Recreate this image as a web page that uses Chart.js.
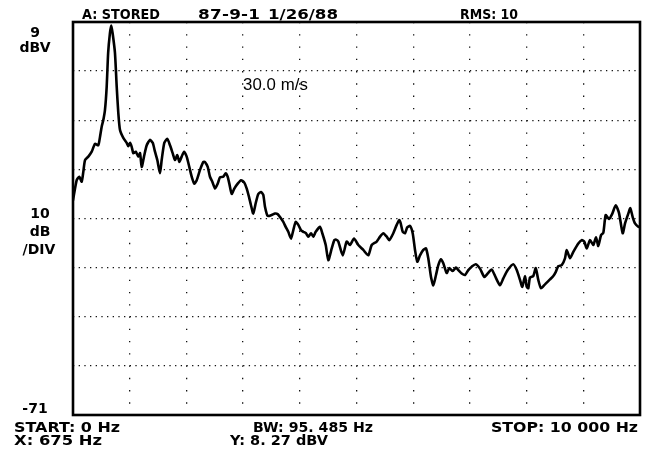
<!DOCTYPE html>
<html>
<head>
<meta charset="utf-8">
<script src="https://cdn.jsdelivr.net/npm/chart.js@4/dist/chart.umd.min.js"></script>
<style>
  html, body { margin: 0; padding: 0; background: #fff; }
  #wrap { width: 648px; height: 455px; }
</style>
</head>
<body>
<div id="wrap"><canvas id="spec" width="648" height="455"></canvas></div>
<script>
// Stored spectrum, 0 - 10 kHz, level in dBV
const freqHz = [
  0, 65, 111, 153, 182, 212, 270, 330, 388, 446, 476, 506, 534, 564, 594, 620, 650, 675, 700, 740,
  771, 799, 829, 887, 947, 975, 1005, 1035, 1064, 1106, 1152, 1182, 1212, 1252, 1300, 1358, 1406, 1446, 1487, 1534,
  1564, 1610, 1663, 1711, 1758, 1799, 1840, 1875, 1917, 1958, 2005, 2051, 2094, 2139, 2182, 2240, 2298, 2328, 2376, 2416,
  2457, 2504, 2552, 2593, 2651, 2693, 2728, 2757, 2799, 2845, 2905, 2963, 3021, 3064, 3104, 3139, 3180, 3222, 3268, 3316,
  3356, 3386, 3434, 3504, 3563, 3610, 3651, 3709, 3751, 3797, 3845, 3885, 3928, 3974, 4021, 4062, 4109, 4150, 4198, 4238,
  4281, 4356, 4397, 4457, 4503, 4563, 4609, 4639, 4679, 4757, 4827, 4885, 4956, 5032, 5120, 5208, 5268, 5356, 5415, 5473,
  5533, 5579, 5649, 5709, 5755, 5780, 5815, 5856, 5896, 5944, 5991, 6032, 6072, 6120, 6178, 6226, 6266, 6314, 6355, 6402,
  6443, 6490, 6531, 6591, 6637, 6697, 6755, 6796, 6855, 6914, 6972, 7032, 7102, 7178, 7254, 7314, 7385, 7455, 7531, 7589,
  7667, 7766, 7826, 7884, 7924, 7972, 8002, 8030, 8060, 8118, 8161, 8206, 8254, 8325, 8413, 8471, 8513, 8559, 8619, 8677,
  8707, 8766, 8824, 8912, 8972, 9018, 9060, 9118, 9177, 9224, 9265, 9312, 9353, 9395, 9453, 9512, 9572, 9630, 9695, 9736,
  9794, 9829, 9871, 9912, 9970, 10000
];
const levelDbv = [
  -27.3, -23.2, -22.5, -23.5, -21.5, -19.1, -18.4, -17.4, -15.8, -16.1, -14.4, -12.3, -11.0, -8.9, -4.2, 2.7, 6.6, 8.27, 6.6, 2.7,
  -4.2, -9.5, -13.0, -14.6, -15.6, -16.3, -15.6, -16.4, -17.7, -17.4, -18.4, -17.7, -20.5, -18.4, -16.1, -15.0, -15.6, -17.4, -19.1, -21.8,
  -19.1, -15.6, -14.8, -16.1, -17.7, -19.1, -18.1, -19.5, -18.4, -17.4, -18.4, -20.5, -22.5, -23.9, -23.2, -21.1, -19.5, -19.5, -20.5, -22.5,
  -23.5, -24.9, -23.9, -22.6, -22.5, -21.8, -22.5, -23.9, -26.0, -24.9, -23.9, -23.2, -23.7, -24.9, -26.6, -28.3, -30.0, -27.9, -26.0, -25.6,
  -26.2, -28.6, -30.5, -30.3, -30.0, -30.1, -30.7, -31.7, -32.7, -33.7, -35.1, -33.4, -31.7, -32.3, -33.4, -33.7, -34.0, -34.7, -34.0, -34.7,
  -33.7, -32.7, -34.0, -36.4, -39.5, -37.1, -35.4, -35.3, -35.7, -38.5, -35.7, -36.4, -35.1, -36.4, -37.4, -38.5, -36.4, -35.7, -34.7, -34.0,
  -34.7, -35.4, -34.0, -32.3, -31.3, -32.0, -33.7, -34.0, -32.8, -32.5, -34.0, -37.4, -39.8, -38.5, -37.4, -37.1, -39.1, -42.9, -44.6, -42.5,
  -40.5, -39.3, -40.1, -42.1, -41.1, -41.7, -41.0, -41.5, -42.2, -42.5, -41.5, -40.8, -40.3, -41.2, -42.9, -42.2, -41.4, -43.0, -44.6, -43.2,
  -41.5, -40.3, -41.5, -43.5, -44.9, -42.7, -44.9, -45.2, -43.0, -42.7, -41.1, -43.5, -45.2, -44.4, -43.4, -42.7, -41.9, -40.7, -40.5, -39.1,
  -37.4, -39.1, -37.8, -36.1, -35.4, -35.7, -37.1, -35.4, -36.4, -34.8, -36.6, -34.4, -33.9, -30.3, -31.1, -30.0, -28.3, -29.9, -34.0, -32.0,
  -30.0, -28.9, -30.7, -32.0, -32.7, -32.8
];

// Axis divisions: 10 dB/div vertically, 1 kHz/div horizontally
const xTicks = [0, 1000, 2000, 3000, 4000, 5000, 6000, 7000, 8000, 9000, 10000];
const yTicks = [9, -1, -11, -21, -31, -41, -51, -61, -71];

// Instrument readout values
const traceName = 'A: STORED';
const traceDate = ['87-9-1', '1/26/88'];
const rmsAverages = 10;
const bandwidthHz = 95.485;
const windSpeed = '30.0 m/s';

const points = freqHz.map((f, i) => ({ x: f, y: levelDbv[i] }));

// Marker sits on the spectral peak
let peakIdx = 0;
levelDbv.forEach((v, i) => { if (v > levelDbv[peakIdx]) peakIdx = i; });
const markerHz = freqHz[peakIdx];
const markerDbv = levelDbv[peakIdx];

// Analyzer-style number: "8.27" -> "8. 27", "10000" -> "10 000"
function analyzerNum(v, decimals) {
  const s = v.toFixed(decimals);
  const [ip, fp] = s.split('.');
  const grouped = ip.replace(/\B(?=(\d{3})+(?!\d))/g, ' ');
  return fp ? grouped + '. ' + fp : grouped;
}

const FONT_BOLD = 'bold 14px "DejaVu Sans"';

// Draw text so it spans [x0, x1]: widen the glyphs a little, then adjust spacing
function fitText(ctx, str, x0, x1, baseline, maxScale) {
  const kMax = maxScale === undefined ? 1.2 : maxScale;
  ctx.letterSpacing = '0px';
  const w = ctx.measureText(str).width;
  const target = x1 - x0;
  const k = Math.min(kMax, Math.max(0.85, target / w));
  const n = Math.max(1, str.length - 1);
  const s = (target - w * k) / n / k;
  ctx.save();
  ctx.translate(x0, baseline);
  ctx.scale(k, 1);
  ctx.letterSpacing = s.toFixed(2) + 'px';
  ctx.textAlign = 'left';
  ctx.fillText(str, 0, 0);
  ctx.restore();
}

const readoutPlugin = {
  id: 'readout',
  afterDraw(chart) {
    const { ctx, chartArea: a, scales } = chart;
    const ys = scales.y, xs = scales.x;
    ctx.save();

    // plot frame
    ctx.strokeStyle = '#000';
    ctx.lineWidth = 2.6;
    ctx.strokeRect(a.left, a.top, a.right - a.left, a.bottom - a.top);

    ctx.fillStyle = '#000';
    ctx.textBaseline = 'alphabetic';
    ctx.font = FONT_BOLD;

    // header line
    fitText(ctx, traceName, 82, 160, a.top - 3);
    fitText(ctx, traceDate[0], 198, 260, a.top - 3);
    fitText(ctx, traceDate[1], 268, 338, a.top - 3);
    fitText(ctx, 'RMS: ' + rmsAverages, 460, 518, a.top - 3);

    // vertical scale annotations
    ctx.textAlign = 'center';
    const yTop = ys.getPixelForValue(yTicks[0]);
    const yMid = ys.getPixelForValue(yTicks[4]);
    const yBot = ys.getPixelForValue(yTicks[yTicks.length - 1]);
    ctx.fillText(String(yTicks[0]), 35, yTop + 15);
    ctx.fillText('dBV', 35, yTop + 30);
    ctx.fillText('10', 40, yMid - 1);
    ctx.fillText('dB', 40, yMid + 17);
    ctx.fillText('/DIV', 39, yMid + 35);
    ctx.fillText(String(yTicks[yTicks.length - 1]), 35, yBot - 2);

    // footer lines
    const x0 = xs.min, x1 = xs.max;
    fitText(ctx, 'START: ' + analyzerNum(x0, 0) + ' Hz', 14, 120, a.bottom + 17);
    fitText(ctx, 'BW: ' + analyzerNum(bandwidthHz, 3) + ' Hz', 253, 373, a.bottom + 17);
    fitText(ctx, 'STOP: ' + analyzerNum(x1, 0) + ' Hz', 491, 638, a.bottom + 17);
    fitText(ctx, 'X: ' + analyzerNum(markerHz, 0) + ' Hz', 14, 102, a.bottom + 30);
    fitText(ctx, 'Y: ' + analyzerNum(markerDbv, 2) + ' dBV', 230, 328, a.bottom + 30);

    // condition note inside the plot
    ctx.font = '16px "Liberation Sans"';
    fitText(ctx, windSpeed, 243, 308, a.top + 68, 1.05);

    ctx.restore();
  }
};

new Chart(document.getElementById('spec'), {
  type: 'line',
  data: {
    datasets: [{
      data: points,
      borderColor: '#000',
      borderWidth: 2.6,
      borderJoinStyle: 'round',
      borderCapStyle: 'round',
      pointRadius: 0,
      tension: 0.2,
      fill: false
    }]
  },
  options: {
    responsive: false,
    animation: false,
    devicePixelRatio: 1,
    layout: { padding: { left: 73, top: 22, right: 8, bottom: 40 } },
    plugins: { legend: { display: false }, tooltip: { enabled: false } },
    scales: {
      x: {
        type: 'linear',
        min: xTicks[0],
        max: xTicks[xTicks.length - 1],
        afterBuildTicks: s => { s.ticks = xTicks.map(v => ({ value: v })); },
        ticks: { display: false },
        grid: { color: '#111', lineWidth: 1.3, drawTicks: false },
        border: { display: false, dash: [1.3, 10.97] }
      },
      y: {
        type: 'linear',
        min: yTicks[yTicks.length - 1],
        max: yTicks[0],
        afterBuildTicks: s => { s.ticks = yTicks.map(v => ({ value: v })); },
        ticks: { display: false },
        grid: { color: '#111', lineWidth: 1.3, drawTicks: false },
        border: { display: false, dash: [1.3, 4.37] }
      }
    }
  },
  plugins: [readoutPlugin]
});
</script>
</body>
</html>
